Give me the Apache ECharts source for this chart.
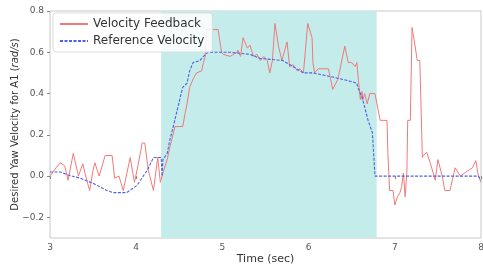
<!DOCTYPE html>
<html>
<head>
<meta charset="utf-8">
<script src="https://cdn.jsdelivr.net/npm/echarts@6/dist/echarts.min.js"></script>
<style>
  html, body { margin: 0; padding: 0; background: #fff; }
  #chart { width: 483px; height: 265px; }
</style>
</head>
<body>
<div id="chart"></div>
<script>
// velocity feedback (red)
const fbTime = [3.00, 3.02, 3.07, 3.12, 3.17, 3.21, 3.27, 3.33, 3.38, 3.42, 3.46, 3.50, 3.52, 3.57, 3.64, 3.72, 3.75, 3.80, 3.85, 3.93, 3.98, 4.02, 4.07, 4.10, 4.14, 4.20, 4.25, 4.28, 4.31, 4.36, 4.39, 4.45, 4.54, 4.57, 4.59, 4.62, 4.66, 4.70, 4.76, 4.78, 4.80, 4.82, 4.95, 4.99, 5.01, 5.09, 5.17, 5.18, 5.21, 5.24, 5.29, 5.32, 5.36, 5.40, 5.44, 5.48, 5.52, 5.55, 5.58, 5.61, 5.65, 5.69, 5.75, 5.78, 5.82, 5.87, 5.90, 5.94, 5.99, 6.04, 6.05, 6.07, 6.11, 6.23, 6.28, 6.34, 6.42, 6.46, 6.50, 6.54, 6.56, 6.57, 6.60, 6.62, 6.63, 6.65, 6.68, 6.71, 6.77, 6.83, 6.91, 6.92, 6.94, 6.98, 7.00, 7.03, 7.06, 7.08, 7.10, 7.12, 7.14, 7.15, 7.18, 7.20, 7.21, 7.23, 7.26, 7.29, 7.32, 7.33, 7.37, 7.41, 7.47, 7.50, 7.55, 7.58, 7.64, 7.70, 7.76, 7.81, 7.90, 7.94, 7.97, 8.00];
const fbVel = [0.00, 0.00, 0.04, 0.065, 0.05, -0.02, 0.11, 0.00, 0.06, -0.01, -0.07, 0.03, 0.065, 0.00, 0.10, 0.10, -0.01, 0.00, -0.07, 0.09, -0.03, 0.05, 0.16, 0.16, 0.03, -0.07, 0.09, -0.03, 0.015, 0.08, 0.14, 0.24, 0.24, 0.31, 0.35, 0.43, 0.47, 0.50, 0.51, 0.55, 0.58, 0.71, 0.71, 0.60, 0.59, 0.58, 0.60, 0.61, 0.58, 0.67, 0.62, 0.635, 0.58, 0.59, 0.56, 0.58, 0.56, 0.50, 0.56, 0.74, 0.63, 0.56, 0.65, 0.53, 0.54, 0.51, 0.52, 0.50, 0.74, 0.67, 0.55, 0.50, 0.52, 0.52, 0.42, 0.47, 0.63, 0.55, 0.55, 0.53, 0.55, 0.50, 0.37, 0.41, 0.37, 0.40, 0.35, 0.40, 0.40, 0.27, 0.27, 0.11, -0.07, -0.07, -0.14, -0.10, -0.08, -0.05, 0.015, -0.10, 0.02, 0.27, 0.27, 0.72, 0.72, 0.645, 0.56, 0.56, 0.09, 0.10, 0.115, 0.065, -0.02, 0.08, 0.00, -0.07, -0.07, 0.04, 0.00, 0.015, 0.04, 0.075, 0.00, -0.03];

// reference velocity (blue)
const refTime = [3.00, 3.12, 3.21, 3.35, 3.50, 3.66, 3.73, 3.89, 4.01, 4.13, 4.20, 4.29, 4.30, 4.31, 4.36, 4.39, 4.43, 4.47, 4.51, 4.54, 4.59, 4.62, 4.66, 4.74, 4.78, 4.83, 4.97, 5.09, 5.32, 5.44, 5.70, 5.82, 5.94, 6.05, 6.28, 6.48, 6.56, 6.57, 6.62, 6.65, 6.69, 6.74, 6.76, 6.77, 7.97, 8.00];
const refVel = [0.02, 0.02, 0.005, -0.01, -0.035, -0.07, -0.08, -0.08, -0.045, 0.03, 0.09, 0.09, 0.00, 0.08, 0.11, 0.175, 0.24, 0.31, 0.38, 0.43, 0.45, 0.51, 0.55, 0.56, 0.58, 0.60, 0.60, 0.60, 0.59, 0.57, 0.56, 0.53, 0.50, 0.50, 0.48, 0.46, 0.45, 0.43, 0.38, 0.335, 0.27, 0.21, 0.21, 0.00, 0.00, -0.02];

// shaded interval (sec)
const shadeRange = [4.29, 6.79];
const yTicks = [-0.2, 0.0, 0.2, 0.4, 0.6, 0.8];

const font = 'DejaVu Sans';
const chart = echarts.init(document.getElementById('chart'));

chart.setOption({
  animation: false,
  textStyle: { fontFamily: font },
  grid: {
    left: 50, right: 2, top: 11, bottom: 27,
    containLabel: false, outerBoundsMode: 'none',
    show: true, borderColor: '#c8c8c8', borderWidth: 1
  },
  legend: {
    orient: 'vertical',
    left: 53, top: 13,
    itemWidth: 28, itemHeight: 10, itemGap: 5,
    padding: [5, 8, 5, 6],
    borderColor: '#dddddd', borderWidth: 1, borderRadius: 3,
    backgroundColor: 'rgba(255,255,255,0.85)',
    itemStyle: { opacity: 0 },
    textStyle: { fontFamily: font, fontSize: 12, color: '#333' },
    data: ['Velocity Feedback', 'Reference Velocity']
  },
  xAxis: {
    type: 'value', min: 3, max: 8, interval: 1,
    name: 'Time (sec)', nameLocation: 'middle', nameGap: 16, nameMoveOverlap: false,
    nameTextStyle: { fontFamily: font, fontSize: 11, color: '#333' },
    axisLine: { show: false },
    axisTick: { show: true, length: 3, lineStyle: { color: '#888' } },
    axisLabel: { fontFamily: font, fontSize: 9, color: '#555', margin: 5 },
    splitLine: { show: false }
  },
  yAxis: {
    type: 'value', min: -0.3, max: 0.8,
    name: 'Desired Yaw Velocity for A1 ({i|rad/s})',
    nameLocation: 'middle', nameGap: 30, nameRotate: 90, nameMoveOverlap: false,
    nameTextStyle: {
      fontFamily: font, fontSize: 10, color: '#333',
      rich: { i: { fontFamily: font, fontSize: 10, fontStyle: 'italic', color: '#333' } }
    },
    axisLine: { show: false },
    axisTick: { show: true, length: 3, customValues: yTicks, lineStyle: { color: '#888' } },
    axisLabel: {
      fontFamily: font, fontSize: 9, color: '#555', margin: 6,
      customValues: yTicks,
      formatter: v => v.toFixed(1).replace('-', '\u2212')
    },
    splitLine: { show: false }
  },
  series: [
    {
      name: 'Reference Velocity',
      type: 'line',
      data: refTime.map((t, i) => [t, refVel[i]]),
      showSymbol: false, symbol: 'none',
      lineStyle: { color: '#4f5fe6', width: 1.1, type: [3, 1.5] },
      itemStyle: { color: '#4f5fe6' },
      z: 3,
      markArea: {
        silent: true,
        itemStyle: { color: '#c4eceb' },
        data: [[{ xAxis: shadeRange[0] }, { xAxis: shadeRange[1] }]]
      }
    },
    {
      name: 'Velocity Feedback',
      type: 'line',
      data: fbTime.map((t, i) => [t, fbVel[i]]),
      showSymbol: false, symbol: 'none',
      lineStyle: { color: '#ef7a78', width: 1 },
      itemStyle: { color: '#ef7a78' },
      z: 2
    }
  ]
});
</script>
</body>
</html>
